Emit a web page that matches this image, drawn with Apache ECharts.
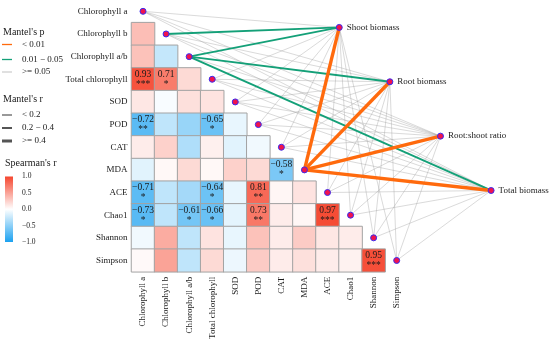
<!DOCTYPE html>
<html><head><meta charset="utf-8">
<script src="https://cdn.jsdelivr.net/npm/echarts@6/dist/echarts.min.js"></script>
<style>html,body{margin:0;padding:0;background:#fff}#c{width:550px;height:343px}</style>
</head><body><div id="c"></div><script>
// ---------------- data ----------------
const variables = ['Chlorophyll a','Chlorophyll b','Chlorophyll a/b','Total chlorophyll','SOD','POD','CAT','MDA','ACE','Chao1','Shannon','Simpson'];
// Spearman's r, lower triangle (row r holds columns 0..r-1)
const spearmanR = [
  [],
  [0.35],
  [0.33, -0.26],
  [0.93, 0.71, 0.20],
  [0.13, -0.03, 0.17, 0.15],
  [-0.72, -0.28, -0.45, -0.65, -0.10],
  [0.10, 0.25, -0.35, 0.08, -0.13, -0.06],
  [-0.13, 0.04, 0.20, 0.04, 0.25, 0.20, -0.58],
  [-0.71, -0.28, -0.40, -0.64, -0.10, 0.81, 0.05, 0.15],
  [-0.73, -0.28, -0.61, -0.66, -0.12, 0.73, 0.10, 0.05, 0.97],
  [-0.06, 0.45, -0.28, 0.15, -0.10, 0.33, 0.10, 0.28, 0.13, 0.10],
  [0.03, 0.50, -0.28, 0.20, -0.08, 0.28, 0.10, 0.17, 0.10, 0.07, 0.95]
];
const spearmanStars = [
  [],
  [''],
  ['',''],
  ['***','*',''],
  ['','','',''],
  ['**','','','*',''],
  ['','','','','',''],
  ['','','','','','','*'],
  ['*','','','*','','**','',''],
  ['*','','*','*','','**','','','***'],
  ['','','','','','','','','',''],
  ['','','','','','','','','','','***']
];
const responses = ['Shoot biomass','Root biomass','Root:shoot ratio','Total biomass'];
// Mantel's p class per variable (0: < 0.01, 1: 0.01-0.05, 2: >= 0.05)
const mantelPShoot = [2,1,1,2,2,2,2,0,2,2,2,2];
const mantelPRoot  = [2,2,1,2,2,2,2,0,2,2,2,2];
const mantelPRatio = [2,2,2,2,2,2,2,0,2,2,2,2];
const mantelPTotal = [2,2,1,2,2,2,2,0,2,2,2,2];
// Mantel's r class per variable (0: < 0.2, 1: 0.2-0.4, 2: >= 0.4)
const mantelRShoot = [0,1,1,0,0,0,0,2,0,0,0,0];
const mantelRRoot  = [0,0,1,0,0,0,0,2,0,0,0,0];
const mantelRRatio = [0,0,0,0,0,0,0,2,0,0,0,0];
const mantelRTotal = [0,0,1,0,0,0,0,2,0,0,0,0];
const pLevels = ['< 0.01','0.01 \u2212 0.05','>= 0.05'];
const rLevels = ['< 0.2','0.2 \u2212 0.4','>= 0.4'];
const colorTicks = [1.0, 0.5, 0.0, -0.5, -1.0];

// ---------------- styles / layout ----------------
const FONT = '"Liberation Serif", "Times New Roman", serif';
const TXT = '#1a1a1a';
const RED = '#F5462F', BLUE = '#1BA1F0';
const pColors = ['#FF6A0D','#14A078','#A2A2A2'];
const pOpacity = [1, 1, 0.5];
const rWidths = [0.8, 1.9, 3.4];
const G = {left: 131.5, top: -4.6, width: 276.7, height: 276.4};

const fmt = v => v.toFixed(2).replace('-', '\u2212');

const heatData = [];
spearmanR.forEach((row, r) => row.forEach((v, c) => heatData.push({value: [c, r, v], star: spearmanStars[r][c]})));

const nodes = variables.map((name, i) => ({name, value: [i, i]}));
responses.forEach((name, k) => nodes.push({
  name, value: [8.51 + 2.195 * k, 0.71 + 2.4 * k],
  label: {show: true, position: 'right', distance: 4, fontSize: 9, fontFamily: FONT, color: TXT}
}));
const pAll = [mantelPShoot, mantelPRoot, mantelPRatio, mantelPTotal];
const rAll = [mantelRShoot, mantelRRoot, mantelRRatio, mantelRTotal];
let links = [];
responses.forEach((res, k) => variables.forEach((v, i) => links.push({source: i, target: variables.length + k, p: pAll[k][i], r: rAll[k][i]})));
links.sort((a, b) => b.p - a.p);
links = links.map(l => ({source: l.source, target: l.target,
  lineStyle: {color: pColors[l.p], width: rWidths[l.r], opacity: pOpacity[l.p], curveness: 0}}));

// legend graphics
const gfx = [];
const txt = (t, x, y, size) => ({type: 'text', silent: true, style: {text: t, x, y, fill: TXT, font: size + 'px ' + FONT, verticalAlign: 'middle', align: 'left'}});
const ln = (y, color, w, op) => ({type: 'line', silent: true, shape: {x1: 2, y1: y, x2: 12, y2: y}, style: {stroke: color, lineWidth: w, opacity: op}});
gfx.push(txt("Mantel's p", 3, 32.5, 10));
const pY = [44.5, 59.5, 72];
pLevels.forEach((t, i) => { gfx.push(ln(pY[i], pColors[i], 1.3, pOpacity[i])); gfx.push(txt(t, 22, pY[i], 9)); });
gfx.push(txt("Mantel's r", 3, 99, 10));
const rY = [115, 128, 141];
rLevels.forEach((t, i) => { gfx.push(ln(rY[i], '#555', [1.2, 2, 3][i], 1)); gfx.push(txt(t, 22, rY[i], 9)); });
gfx.push(txt("Spearman's r", 5, 163, 10));
const cb = {x: 5, y: 176.5, w: 8, h: 65.5};
gfx.push({type: 'rect', silent: true, shape: {x: cb.x, y: cb.y, width: cb.w, height: cb.h},
  style: {fill: new echarts.graphic.LinearGradient(0, 0, 0, 1, [{offset: 0, color: RED}, {offset: 0.5, color: '#ffffff'}, {offset: 1, color: BLUE}])}});
colorTicks.forEach(v => gfx.push(txt(v.toFixed(1).replace('-', '\u2212'), 22, cb.y + (1 - v) / 2 * cb.h, 7.5)));

const chart = echarts.init(document.getElementById('c'), null, {renderer: 'canvas'});
chart.setOption({
  animation: false,
  backgroundColor: '#fff',
  grid: [
    Object.assign({}, G, {containLabel: false}),
    Object.assign({}, G, {containLabel: false})
  ],
  xAxis: [
    {type: 'category', gridIndex: 0, data: variables, position: 'bottom',
     axisLine: {show: false}, axisTick: {show: false}, splitLine: {show: false},
     axisLabel: {interval: 0, rotate: 90, margin: 5, fontSize: 9, fontFamily: FONT, color: TXT}},
    {type: 'value', gridIndex: 1, min: -0.5, max: 11.5, show: false, splitLine: {show: false}}
  ],
  yAxis: [
    {type: 'category', gridIndex: 0, data: variables, inverse: true,
     axisLine: {show: false}, axisTick: {show: false}, splitLine: {show: false},
     axisLabel: {interval: 0, margin: 4, fontSize: 9, fontFamily: FONT, color: TXT}},
    {type: 'value', gridIndex: 1, min: -0.5, max: 11.5, inverse: true, show: false, splitLine: {show: false}}
  ],
  visualMap: {show: false, type: 'continuous', min: -1, max: 1, dimension: 2, seriesIndex: 0,
    inRange: {color: [BLUE, '#ffffff', RED]}},
  series: [
    {type: 'heatmap', xAxisIndex: 0, yAxisIndex: 0, data: heatData, silent: true,
     itemStyle: {borderColor: '#a3a3a3', borderWidth: 1},
     label: {show: true, color: TXT,
       formatter: p => p.data.star ? '{v|' + fmt(p.data.value[2]) + '}\n{s|' + p.data.star + '}' : '',
       rich: {v: {fontSize: 9.5, fontFamily: FONT, color: TXT, lineHeight: 10},
              s: {fontSize: 9.5, fontFamily: FONT, color: TXT, lineHeight: 10}}},
     emphasis: {disabled: true}},
    {type: 'graph', layout: 'none', coordinateSystem: 'cartesian2d', xAxisIndex: 1, yAxisIndex: 1,
     silent: true, z: 5, symbol: 'circle', symbolSize: 6,
     itemStyle: {color: '#F0134D', borderColor: '#3A2CF2', borderWidth: 1},
     label: {show: false},
     data: nodes, links: links, emphasis: {disabled: true}}
  ],
  graphic: gfx
});
</script></body></html>
